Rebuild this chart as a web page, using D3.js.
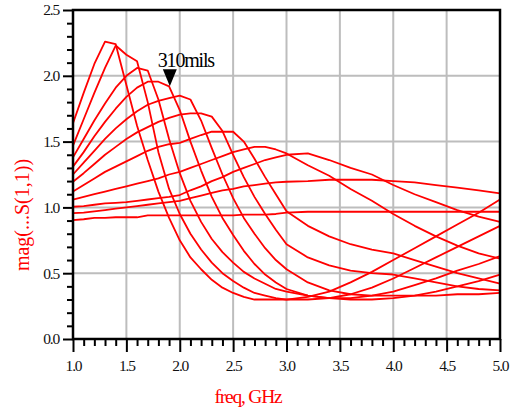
<!DOCTYPE html>
<meta charset="utf-8">
<style>
body { margin: 0; background: #fff; }
text { font-family: "Liberation Serif", "Times New Roman", serif; }
.grid line { stroke: #bdbdbd; stroke-width: 2px; }
.trace { fill: none; stroke: #ff0000; stroke-width: 1.8px; stroke-linejoin: round; }
.tick text { font-size: 15.5px; fill: #111; letter-spacing: -1.2px; }
.axis path { display: none; }
.axis line { stroke: #000; stroke-width: 2px; }
</style>
<body>
<script src="https://cdn.jsdelivr.net/npm/d3@7"></script>
<script>

// frequency points (GHz)
var freq = [1.0,1.1,1.2,1.3,1.4,1.5,1.6,1.7,1.8,1.9,2.0,2.1,2.2,2.3,2.4,2.5,2.6,2.7,2.8,2.9,3.0,
            3.2,3.4,3.6,3.8,4.0,4.2,4.4,4.6,4.8,5.0];

// mag(S(1,1)) traces, one per sweep step
var s1  = [1.64,1.87,2.09,2.26,2.24,1.93,1.62,1.36,1.12,0.92,0.75,0.62,0.53,0.45,0.39,0.35,0.32,0.30,0.30,0.30,0.30,
           0.32,0.36,0.43,0.51,0.60,0.69,0.78,0.87,0.96,1.06];
var s2  = [1.47,1.67,1.87,2.06,2.23,2.16,2.11,1.80,1.42,1.14,0.95,0.80,0.68,0.58,0.50,0.44,0.39,0.35,0.33,0.31,0.30,
           0.30,0.31,0.34,0.39,0.46,0.54,0.62,0.70,0.78,0.86];
var s3  = [1.38,1.52,1.66,1.79,1.91,2.00,2.06,2.04,1.82,1.52,1.26,1.05,0.89,0.76,0.66,0.58,0.51,0.46,0.42,0.38,0.36,
           0.33,0.31,0.31,0.33,0.36,0.41,0.46,0.52,0.57,0.63];
var s4  = [1.31,1.42,1.54,1.65,1.75,1.84,1.91,1.955,1.955,1.92,1.74,1.50,1.28,1.08,0.92,0.79,0.67,0.57,0.49,0.43,0.38,
           0.33,0.31,0.30,0.30,0.31,0.33,0.36,0.40,0.44,0.49];
var s5  = [1.25,1.34,1.43,1.52,1.60,1.67,1.73,1.78,1.81,1.83,1.85,1.82,1.66,1.45,1.25,1.07,0.92,0.80,0.69,0.60,0.53,
           0.43,0.37,0.34,0.33,0.33,0.33,0.33,0.34,0.34,0.35];
var s6  = [1.195,1.26,1.33,1.40,1.46,1.52,1.57,1.61,1.65,1.68,1.705,1.715,1.715,1.69,1.58,1.40,1.23,1.08,0.95,0.83,0.72,
           0.62,0.56,0.52,0.50,0.49,0.46,0.43,0.40,0.38,0.37];
var s7  = [1.12,1.17,1.22,1.27,1.31,1.35,1.39,1.43,1.46,1.48,1.49,1.52,1.55,1.575,1.575,1.575,1.50,1.37,1.23,1.10,0.97,
           0.86,0.78,0.72,0.68,0.65,0.60,0.55,0.50,0.46,0.42];
var s8  = [1.06,1.08,1.10,1.12,1.14,1.16,1.18,1.20,1.22,1.25,1.27,1.30,1.33,1.36,1.39,1.42,1.44,1.46,1.46,1.44,1.41,
           1.32,1.24,1.14,1.05,0.95,0.86,0.78,0.71,0.65,0.61];
var s9  = [1.005,1.01,1.02,1.03,1.035,1.04,1.05,1.06,1.07,1.08,1.094,1.13,1.16,1.20,1.23,1.27,1.30,1.33,1.36,1.38,1.40,
           1.41,1.36,1.30,1.25,1.17,1.10,1.04,0.98,0.93,0.89];
var s10 = [0.957,0.96,0.97,0.98,0.99,1.00,1.01,1.02,1.03,1.04,1.05,1.07,1.09,1.11,1.13,1.14,1.16,1.17,1.18,1.19,1.195,
           1.20,1.21,1.21,1.21,1.20,1.19,1.17,1.15,1.13,1.107];
var s11 = [0.904,0.91,0.92,0.92,0.925,0.925,0.925,0.94,0.94,0.94,0.94,0.94,0.94,0.94,0.94,0.94,0.945,0.945,0.945,0.95,0.96,
           0.967,0.967,0.967,0.967,0.967,0.967,0.967,0.967,0.967,0.967];
var traces = [s1, s2, s3, s4, s5, s6, s7, s8, s9, s10, s11];

var xMajor = [1.0,1.5,2.0,2.5,3.0,3.5,4.0,4.5,5.0];
var yMajor = [0.0,0.5,1.0,1.5,2.0,2.5];
var marker = {f: 1.907, v: 1.92, label: "310mils"};

var width = 512, height = 411;
var x = d3.scaleLinear().domain([1, 5]).range([73, 500]);
var y = d3.scaleLinear().domain([0, 2.5]).range([339, 10]);

var svg = d3.select("body").append("svg")
    .attr("width", width)
    .attr("height", height);

// grid
var grid = svg.append("g").attr("class", "grid");
grid.selectAll(".gx").data(xMajor.slice(1, -1)).enter().append("line")
    .attr("x1", d => x(d)).attr("x2", d => x(d))
    .attr("y1", y(0)).attr("y2", y(2.5));
grid.selectAll(".gy").data(yMajor.slice(1, -1)).enter().append("line")
    .attr("x1", x(1)).attr("x2", x(5))
    .attr("y1", d => y(d)).attr("y2", d => y(d));

// traces
var line = d3.line().x((d, i) => x(freq[i])).y(d => y(d));
svg.append("g").selectAll("path")
    .data(traces)
  .enter().append("path")
    .attr("class", "trace")
    .attr("d", line);

// minor ticks every 0.1
var xMinor = d3.range(10, 51).map(d => d / 10).filter(d => xMajor.indexOf(d) < 0);
var yMinor = d3.range(0, 26).map(d => d / 10).filter(d => yMajor.indexOf(d) < 0);

svg.append("g").attr("class", "axis")
    .attr("transform", "translate(0," + y(0) + ")")
    .call(d3.axisBottom(x).tickValues(xMinor).tickSize(7).tickFormat(""));
svg.append("g").attr("class", "axis")
    .attr("transform", "translate(0," + y(0) + ")")
    .call(d3.axisBottom(x).tickValues(xMajor).tickSize(13).tickPadding(8).tickFormat(d3.format(".1f")));
svg.append("g").attr("class", "axis")
    .attr("transform", "translate(" + x(1) + ",0)")
    .call(d3.axisLeft(y).tickValues(yMinor).tickSize(6).tickFormat(""));
svg.append("g").attr("class", "axis")
    .attr("transform", "translate(" + x(1) + ",0)")
    .call(d3.axisLeft(y).tickValues(yMajor).tickSize(10).tickPadding(4).tickFormat(d3.format(".1f")));

// frame
svg.append("rect")
    .attr("x", x(1)).attr("y", y(2.5))
    .attr("width", x(5) - x(1)).attr("height", y(0) - y(2.5))
    .attr("fill", "none").attr("stroke", "#000").attr("stroke-width", 2.5);

// marker
var mx = x(marker.f), my = y(marker.v);
svg.append("path")
    .attr("d", "M" + (mx - 7) + "," + (my - 17) + "L" + (mx + 7) + "," + (my - 17) + "L" + mx + "," + my + "Z")
    .attr("fill", "#000");
svg.append("text")
    .attr("x", mx - 12).attr("y", my - 19)
    .attr("font-size", 20).attr("letter-spacing", -1.2)
    .text(marker.label);

// axis titles
svg.append("text")
    .attr("x", 248).attr("y", 403)
    .attr("text-anchor", "middle")
    .attr("font-size", 19.5).attr("letter-spacing", -1.2)
    .attr("fill", "#ff0000")
    .text("freq, GHz");
svg.append("text")
    .attr("transform", "translate(29,215) rotate(-90)")
    .attr("text-anchor", "middle")
    .attr("font-size", 20)
    .attr("fill", "#ff0000")
    .text("mag(...S(1,1))");
</script>
